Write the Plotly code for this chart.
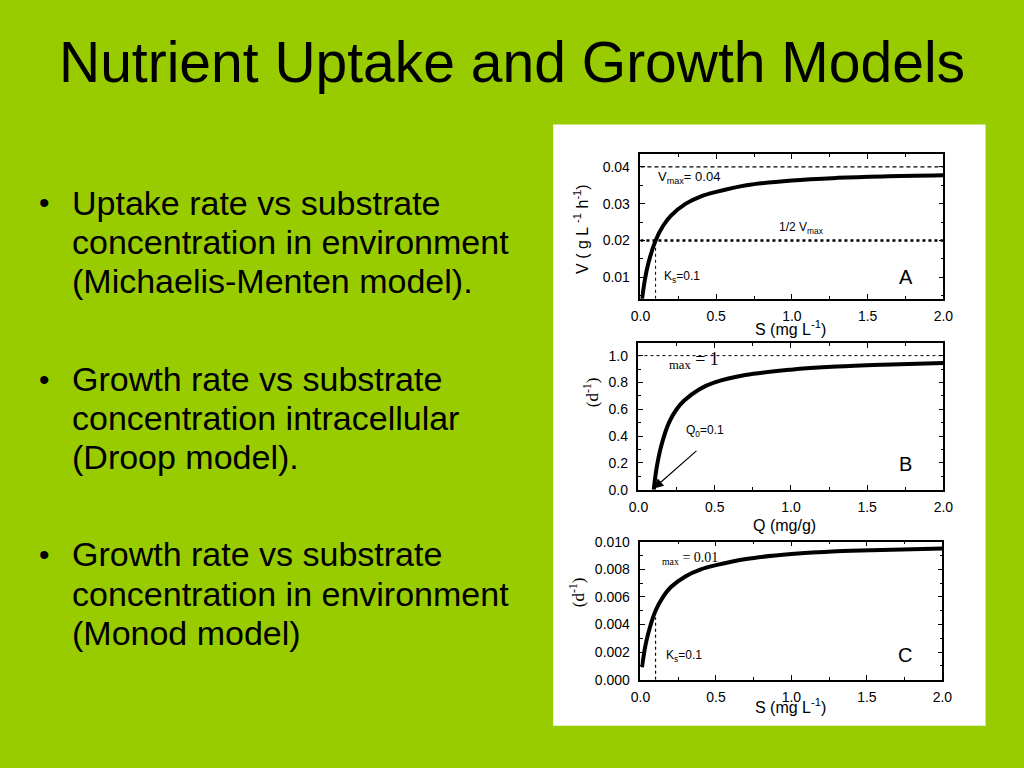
import plotly.graph_objects as go

# ---------------- data ----------------
S_A = [0.01, 0.03, 0.05, 0.1, 0.15, 0.2, 0.3, 0.4, 0.5, 0.7, 1.0, 1.3, 1.6, 2.0]
V_A = [0.0040, 0.0095, 0.0135, 0.0200, 0.0240, 0.0267, 0.0300, 0.0320, 0.0332,
       0.0350, 0.0363, 0.0370, 0.0374, 0.0377]

Q_B = [0.1, 0.12, 0.15, 0.2, 0.25, 0.3, 0.4, 0.5, 0.7, 1.0, 1.3, 1.6, 2.0]
MU_B = [0.0, 0.17, 0.33, 0.50, 0.60, 0.665, 0.75, 0.80, 0.855, 0.895, 0.918, 0.932, 0.945]

S_C = [0.01, 0.03, 0.05, 0.1, 0.15, 0.2, 0.3, 0.4, 0.5, 0.7, 1.0, 1.3, 1.6, 2.0]
MU_C = [0.0009, 0.0023, 0.0033, 0.0050, 0.0060, 0.0067, 0.0075, 0.0080, 0.0083,
        0.00875, 0.0091, 0.0093, 0.0094, 0.0095]

VMAX_A = 0.04
HALF_VMAX_A = 0.02
KS = 0.1
MUMAX_B = 1.0
Q0_B = 0.1
KS_C_TOP = 0.0045

X_RANGE = [0, 2]
X_TICKS = [0.0, 0.5, 1.0, 1.5, 2.0]
X_LABELS = ["0.0", "0.5", "1.0", "1.5", "2.0"]
YA_TICKS = [0.01, 0.02, 0.03, 0.04]
YA_LABELS = ["0.01", "0.02", "0.03", "0.04"]
YB_TICKS = [0.0, 0.2, 0.4, 0.6, 0.8, 1.0]
YB_LABELS = ["0.0", "0.2", "0.4", "0.6", "0.8", "1.0"]
YC_TICKS = [0.0, 0.002, 0.004, 0.006, 0.008, 0.010]
YC_LABELS = ["0.000", "0.002", "0.004", "0.006", "0.008", "0.010"]

TITLE = "Nutrient Uptake and Growth Models"
BULLETS = [
    ["Uptake rate vs substrate", "concentration in environment", "(Michaelis-Menten model)."],
    ["Growth rate vs substrate", "concentration intracellular", "(Droop model)."],
    ["Growth rate vs substrate", "concentration in environment", "(Monod model)"],
]

# ---------------- helpers ----------------
W, H = 1024, 768
GREEN = "#99CC00"
SANS = "Liberation Sans, Arial, sans-serif"
SERIF = "Liberation Serif, Times New Roman, serif"


def px(x):
    return x / W


def py(y):
    return 1 - y / H


fig = go.Figure()

curve = dict(mode="lines", line=dict(color="black", width=4, shape="spline"),
             showlegend=False, hoverinfo="skip")
fig.add_trace(go.Scatter(x=S_A, y=V_A, xaxis="x", yaxis="y", **curve))
fig.add_trace(go.Scatter(x=Q_B, y=MU_B, xaxis="x2", yaxis="y2", **curve))
fig.add_trace(go.Scatter(x=S_C, y=MU_C, xaxis="x3", yaxis="y3", **curve))

ref = dict(mode="lines", showlegend=False, hoverinfo="skip")
fig.add_trace(go.Scatter(x=X_RANGE, y=[VMAX_A, VMAX_A], xaxis="x", yaxis="y",
                         line=dict(color="black", width=1.3, dash="4px,3px"), **ref))
fig.add_trace(go.Scatter(x=X_RANGE, y=[HALF_VMAX_A, HALF_VMAX_A], xaxis="x", yaxis="y",
                         line=dict(color="black", width=2.5, dash="dot"), **ref))
fig.add_trace(go.Scatter(x=[KS, KS], y=[0.0042, HALF_VMAX_A], xaxis="x", yaxis="y",
                         line=dict(color="black", width=1, dash="dot"), **ref))
fig.add_trace(go.Scatter(x=X_RANGE, y=[MUMAX_B, MUMAX_B], xaxis="x2", yaxis="y2",
                         line=dict(color="black", width=1, dash="dot"), **ref))
fig.add_trace(go.Scatter(x=[KS, KS], y=[0, KS_C_TOP], xaxis="x3", yaxis="y3",
                         line=dict(color="black", width=1.2, dash="dot"), **ref))

tickfont = dict(family=SANS, size=14, color="black")


def xax(dom, anchor):
    return dict(domain=dom, anchor=anchor, range=X_RANGE, tickvals=X_TICKS, ticktext=X_LABELS,
                showline=True, linecolor="black", linewidth=1.5, mirror="ticks",
                ticks="inside", ticklen=5, tickwidth=1, tickcolor="black",
                minor=dict(dtick=0.25, ticks="inside", ticklen=3, tickcolor="black"),
                showgrid=False, zeroline=False, tickfont=tickfont, ticklabelstandoff=4)


def yax(dom, anchor, rng, tv, tt, mdt):
    return dict(domain=dom, anchor=anchor, range=rng, tickvals=tv, ticktext=tt,
                showline=True, linecolor="black", linewidth=1.5, mirror="ticks",
                ticks="inside", ticklen=5, tickwidth=1, tickcolor="black",
                minor=dict(dtick=mdt, ticks="inside", ticklen=3, tickcolor="black"),
                showgrid=False, zeroline=False, tickfont=tickfont, ticklabelstandoff=6)


annotations = []


def ann(text, x, y, size, family=SANS, xanchor="center", yanchor="middle", xref="paper",
        yref="paper", angle=0):
    annotations.append(dict(text=text, x=x, y=y, xref=xref, yref=yref, showarrow=False,
                            xanchor=xanchor, yanchor=yanchor, textangle=angle,
                            font=dict(family=family, size=size, color="black")))


# slide title and bullets
ann(TITLE, px(512), py(55), 57)
line_y = [[199, 239, 279], [379, 419, 459], [558, 598, 638]]
for lines, ys in zip(BULLETS, line_y):
    ann("•", px(28), py(ys[0]), 30, xanchor="left")
    for t, yy in zip(lines, ys):
        ann(t, px(61), py(yy), 34, xanchor="left")

# axis titles
ann("V ( g L <sup>-1</sup> h<sup>-1</sup>)", px(583), py(226), 16, angle=-90)
ann("S (mg L<sup>-1</sup>)", px(796), py(327), 16)
ann("(d<sup>-1</sup>)", px(592), py(392), 17, family=SERIF, angle=-90)
ann("Q (mg/g)", px(790), py(528), 16)
ann("(d<sup>-1</sup>)", px(578), py(597), 17, family=SERIF, angle=-90)
ann("S (mg L<sup>-1</sup>)", px(796), py(713), 16)

# panel A texts
ann("V<sub>max</sub>= 0.04", 0.10, 0.0372, 13, xanchor="left", xref="x", yref="y")
ann("1/2 V<sub>max</sub>", 0.90, 0.0235, 12, xanchor="left", xref="x", yref="y")
ann("K<sub>s</sub>=0.1", 0.14, 0.0100, 12, xanchor="left", xref="x", yref="y")
ann("A", 1.75, 0.0100, 20, xref="x", yref="y")

# panel B texts
ann("<sub>max</sub> = 1", 0.19, 0.96, 18, family=SERIF, xanchor="left", xref="x2", yref="y2")
ann("Q<sub>0</sub>=0.1", 0.30, 0.44, 12, xanchor="left", xref="x2", yref="y2")
ann("B", 1.75, 0.19, 20, xref="x2", yref="y2")
annotations.append(dict(x=0.1, y=0.01, ax=0.39, ay=0.30, xref="x2", yref="y2",
                        axref="x2", ayref="y2", text="", showarrow=True, arrowhead=2,
                        arrowsize=1.6, arrowwidth=1.2, arrowcolor="black"))

# panel C texts
ann("<sub>max</sub> = 0.01", 0.13, 0.0088, 14, family=SERIF, xanchor="left", xref="x3", yref="y3")
ann("K<sub>s</sub>=0.1", 0.155, 0.0017, 12, xanchor="left", xref="x3", yref="y3")
ann("C", 1.75, 0.0018, 20, xref="x3", yref="y3")

fig.update_layout(
    width=W, height=H, margin=dict(l=0, r=0, t=0, b=0),
    paper_bgcolor=GREEN, plot_bgcolor="rgba(0,0,0,0)",
    showlegend=False,
    xaxis=xax([px(643), px(952)], "y"),
    yaxis=yax([py(297), py(149)], "x", [0.0042, 0.0435], YA_TICKS, YA_LABELS, 0.005),
    xaxis2=xax([px(641), px(952)], "y2"),
    yaxis2=yax([py(492), py(342)], "x2", [0, 1.095], YB_TICKS, YB_LABELS, 0.1),
    xaxis3=xax([px(643), px(951)], "y3"),
    yaxis3=yax([py(686), py(545)], "x3", [0, 0.0100], YC_TICKS, YC_LABELS, 0.001),
    annotations=annotations,
    shapes=[dict(type="rect", xref="paper", yref="paper", x0=px(554), x1=px(995),
                 y0=py(733), y1=py(119), fillcolor="white", line=dict(width=0), layer="below")],
)

fig.write_html("out.html", config={"displayModeBar": False},
               post_script="document.body.style.margin='0px';document.body.style.overflow='hidden';"
                           "document.body.style.background='#99CC00';")
